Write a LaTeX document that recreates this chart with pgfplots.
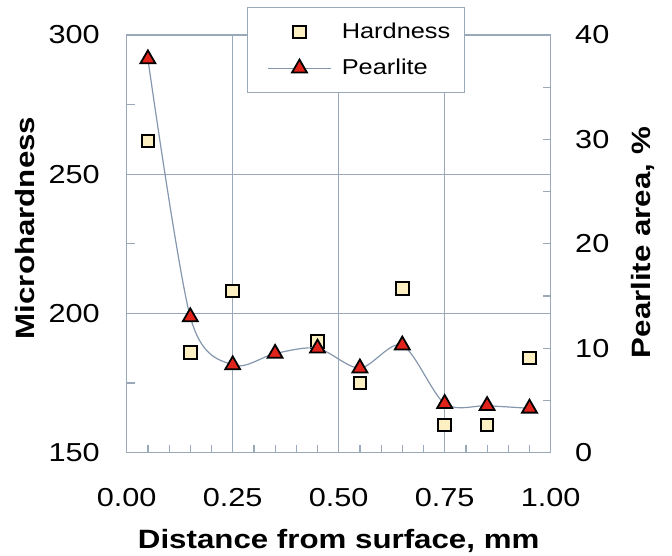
\documentclass[border=0pt]{standalone}
\usepackage{fontspec}
\setmainfont{Liberation Sans}[FakeStretch=1.18]
\usepackage{pgfplots}
\pgfplotsset{compat=1.18}

\definecolor{gridc}{HTML}{9AA9B9}
\definecolor{linec}{HTML}{8497AD}
\definecolor{hardfill}{HTML}{FCEFC2}
\definecolor{pearlred}{HTML}{E0241C}

\pgfplotsset{
  common/.style={
    at={(126.7pt,103.3pt)}, anchor=south west,
    scale only axis, width=424pt, height=417.7pt,
    xmin=0, xmax=1,
    axis line style={gridc, line width=1.2pt},
    tick style={gridc, line width=1.2pt},
    tick align=inside,
    major tick length=8pt, minor tick length=8pt,
    tick label style={font=\fontsize{26pt}{30pt}\selectfont, inner sep=0pt},
    label style={font=\fontsize{26.5pt}{31pt}\selectfont\bfseries, inner sep=0pt},
    /pgf/number format/assume math mode=true,
  },
  hardstyle/.style={only marks, mark=square*, mark size=6.3pt,
    mark options={fill=hardfill, draw=black, line width=2pt}},
  pearlstyle/.style={smooth, linec, line width=1.2pt, mark=triangle*, mark size=8.6pt,
    mark options={fill=pearlred, draw=black, line width=1.8pt, solid, line join=miter}},
}

\begin{document}
\begin{tikzpicture}[x=1pt,y=1pt]
\useasboundingbox (0,0) rectangle (672,556);

% Microhardness (left axis)
\begin{axis}[common,
  ymin=150, ymax=300,
  ytick={150,200,250,300}, minor ytick={175,225,275},
  xtick={0,0.25,0.5,0.75,1}, xticklabels={0.00,0.25,0.50,0.75,1.00},
  minor x tick num=4,
  xtick pos=bottom, ytick pos=left,
  grid=major, major grid style={gridc, line width=1.2pt},
  xticklabel style={anchor=base, yshift=-54.3pt},
  yticklabel style={anchor=east, xshift=-26.7pt},
  xlabel={Distance from surface, mm},
  ylabel={Microhardness},
  xlabel style={at={(axis description cs:0.5,-0.2289)}, anchor=base},
  ylabel style={at={(axis description cs:-0.2163,0.538)}, anchor=base},
]
\addplot[hardstyle] coordinates {
  (0.05,262) (0.15,186) (0.25,208) (0.45,190) (0.55,175)
  (0.65,209) (0.75,160) (0.85,160) (0.95,184)
};
\end{axis}

% Pearlite area (right axis)
\begin{axis}[common,
  axis y line*=right, axis x line=none,
  ymin=0, ymax=40,
  ytick={0,10,20,30,40}, minor ytick={5,15,25,35},
  yticklabel style={anchor=west, xshift=24.3pt},
  ylabel={Pearlite area, \%},
  ylabel style={at={(axis description cs:1.2342,0.503)}, anchor=base},
  legend cell align=left,
  legend style={at={(axis description cs:0.2837,1.0670)}, anchor=north west,
    draw=gridc, line width=1.2pt, fill=white,
    inner xsep=14pt, inner ysep=16pt, row sep=19pt, column sep=10pt,
    font=\fontsize{21.5pt}{25pt}\selectfont,
    nodes={inner sep=0pt, text height=15pt, text depth=2pt}},
  legend image code/.code={
    \path (0pt,0pt);
    \draw[mark repeat=2,mark phase=2,#1] plot coordinates {(5.7pt,0pt) (37.3pt,0pt) (69pt,0pt)};
  },
]
\addlegendimage{hardstyle}
\addlegendentry{Hardness}
\addplot[pearlstyle] coordinates {
  (0.05,37.7) (0.15,13.0) (0.25,8.4) (0.35,9.5) (0.45,10.0)
  (0.55,8.1) (0.65,10.3) (0.75,4.7) (0.85,4.5) (0.95,4.25)
};
\addlegendentry{Pearlite}
\end{axis}
\end{tikzpicture}
\end{document}
